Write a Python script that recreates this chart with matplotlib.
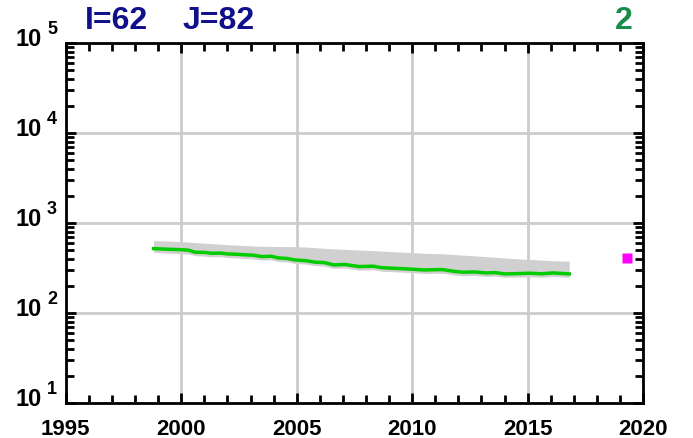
import numpy as np
import matplotlib
matplotlib.use("Agg")
import matplotlib.pyplot as plt
from matplotlib.ticker import LogLocator, FixedLocator

plt.rcParams['font.family'] = ['Liberation Sans', 'DejaVu Sans']
plt.rcParams['font.weight'] = 'bold'

# series
years = [1998.8, 1999.4, 1999.9, 2000.3, 2000.6, 2001.0, 2001.3, 2001.7, 2002.0,
         2002.4, 2002.8, 2003.1, 2003.5, 2003.9, 2004.2, 2004.6, 2004.9, 2005.4,
         2005.8, 2006.2, 2006.6, 2007.1, 2007.7, 2008.3, 2008.7, 2009.1, 2009.8,
         2010.5, 2011.3, 2011.8, 2012.2, 2012.7, 2013.2, 2013.6, 2014.0, 2014.5,
         2015.1, 2015.6, 2016.1, 2016.8]
values = [518, 510, 505, 498, 472, 470, 460, 462, 452, 448, 441, 438, 422, 426,
          408, 402, 388, 380, 366, 362, 341, 345, 327, 330, 318, 314, 308, 300,
          303, 290, 283, 285, 278, 280, 271, 273, 276, 272, 278, 271]
upper = [635, 628, 620, 612, 604, 596, 588, 580, 572, 566, 560, 554, 550, 547,
         546, 545, 545, 538, 530, 522, 515, 508, 500, 492, 486, 480, 470, 460,
         453, 445, 438, 430, 422, 415, 408, 400, 392, 386, 380, 375]
lower = [470, 462, 456, 452, 432, 428, 420, 422, 412, 408, 402, 398, 386, 388,
         372, 368, 355, 348, 335, 331, 312, 316, 298, 302, 290, 287, 282, 274,
         276, 265, 258, 260, 254, 256, 248, 250, 252, 249, 254, 248]
obs_year = [2019.3]
obs_value = [410]
decades = [1, 2, 3, 4, 5]

fig = plt.figure(figsize=(6.93, 4.39), dpi=100)
ax = fig.add_axes([0.095, 0.080, 0.833, 0.820])

ax.fill_between(years, lower, upper, color='#d0d0d0', lw=0, zorder=2)
ax.plot(years, values, color='#00cc00', lw=2.5, zorder=3)
ax.plot(obs_year, obs_value, 's', color='#ff00ff', ms=7, mec='none', zorder=4)

ax.set_yscale('log')
ax.set_xlim(1995, 2020)
ax.set_ylim(10, 1e5)

ax.xaxis.set_major_locator(FixedLocator([1995, 2000, 2005, 2010, 2015, 2020]))
ax.xaxis.set_minor_locator(FixedLocator(np.arange(1995, 2021, 1)))
ax.yaxis.set_major_locator(LogLocator(base=10))
ax.yaxis.set_minor_locator(LogLocator(base=10, subs=np.arange(2, 10)))

ax.grid(True, which='major', color='#cccccc', lw=2, zorder=1)
ax.tick_params(which='both', direction='in', top=True, right=True, width=2, labelsize=16)
ax.tick_params(which='major', length=7)
ax.tick_params(which='minor', length=6)
ax.tick_params(axis='x', pad=11)
ax.tick_params(axis='y', labelleft=False)
for s in ax.spines.values():
    s.set_linewidth(2)
    s.set_zorder(5)

# y labels drawn as "10" with a big superscript, like the original
for d in decades:
    ax.annotate('10', xy=(0, 10 ** d), xycoords=('axes fraction', 'data'),
                xytext=(-17, -1.5), textcoords='offset points',
                ha='right', va='baseline', fontsize=17, fontweight='bold')
    ax.annotate(str(d), xy=(0, 10 ** d), xycoords=('axes fraction', 'data'),
                xytext=(-13.5, 7), textcoords='offset points',
                ha='left', va='baseline', fontsize=13, fontweight='bold')

fig.text(0.123, 0.953, 'I=62', color='#10108a', fontsize=23, fontweight='bold', va='center')
fig.text(0.263, 0.953, 'J=82', color='#10108a', fontsize=23, fontweight='bold', va='center')
fig.text(0.913, 0.953, '2', color='#1a8c4a', fontsize=23, fontweight='bold', va='center', ha='right')

fig.savefig('out.png', dpi=100)
